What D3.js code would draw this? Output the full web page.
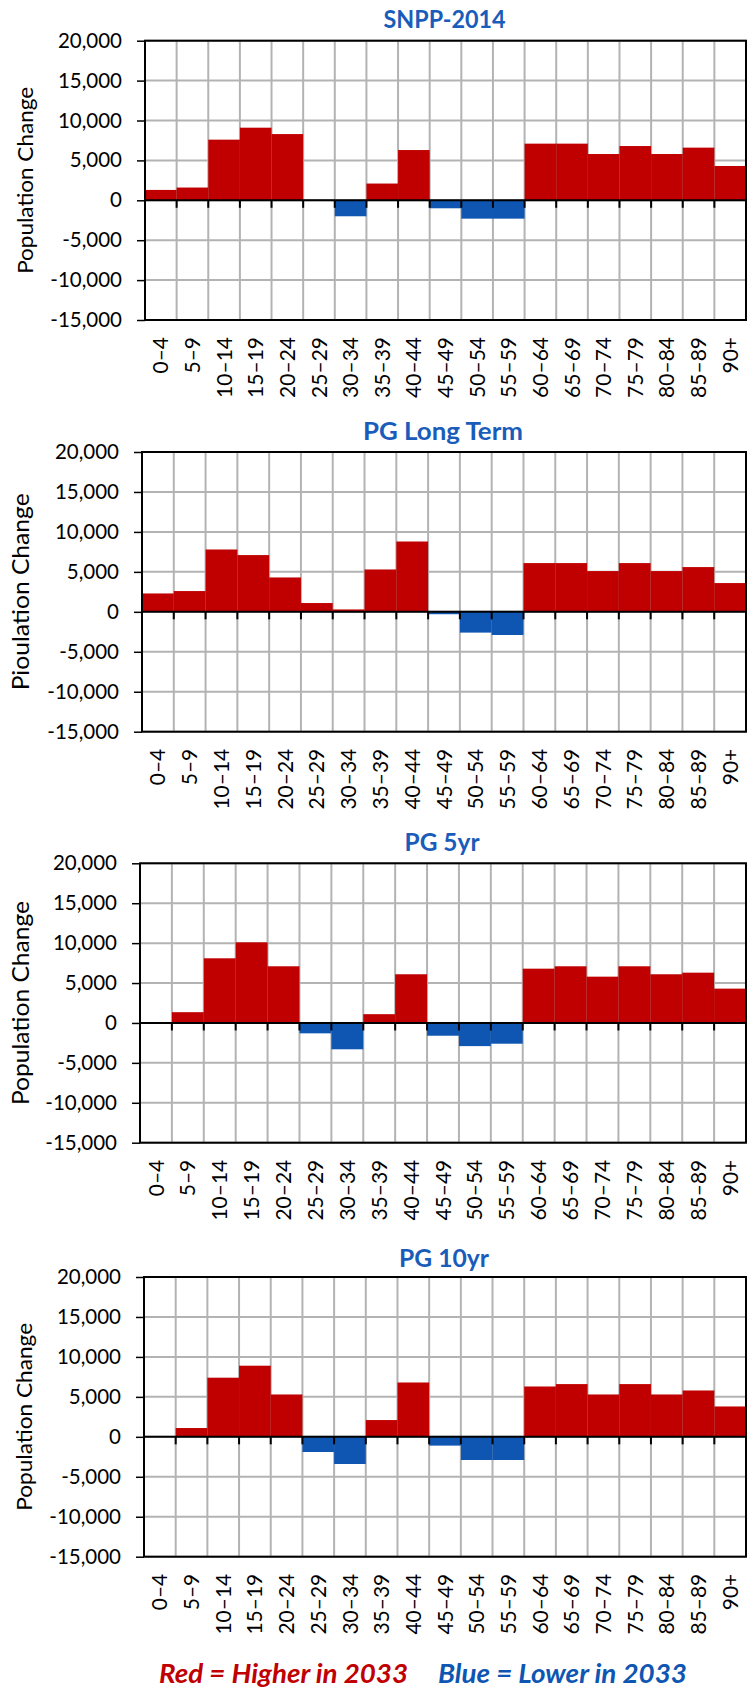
<!DOCTYPE html>
<html>
<head>
<meta charset="utf-8">
<script src="https://cdn.jsdelivr.net/npm/d3@7"></script>
<style>
  html, body { margin: 0; padding: 0; background: #fff; }
  svg { display: block; }
</style>
</head>
<body>
<svg id="chart" width="753" height="1692"></svg>
<script>
// ---------------- DATA ----------------
const ageGroups = ["0–4","5–9","10–14","15–19","20–24","25–29","30–34","35–39","40–44","45–49",
                   "50–54","55–59","60–64","65–69","70–74","75–79","80–84","85–89","90+"];
const snpp2014   = [1300, 1600, 7600, 9100, 8300,    50, -2000, 2100, 6300, -1000,
                    -2300, -2300, 7100, 7100, 5800, 6800, 5800, 6600, 4300];
const pgLongTerm = [2300, 2600, 7800, 7100, 4300, 1100,   300, 5300, 8800,  -300,
                    -2600, -2900, 6100, 6100, 5100, 6100, 5100, 5600, 3600];
const pg5yr      = [ -50, 1350, 8100, 10100, 7100, -1300, -3300, 1100, 6100, -1600,
                    -2900, -2600, 6800, 7100, 5800, 7100, 6100, 6300, 4300];
const pg10yr     = [   0, 1100, 7400, 8900, 5300, -1900, -3400, 2100, 6800, -1100,
                    -2900, -2900, 6300, 6600, 5300, 6600, 5300, 5800, 3800];
const yTicks     = [20000, 15000, 10000, 5000, 0, -5000, -10000, -15000];
const chartTitles = ["SNPP-2014", "PG Long Term", "PG 5yr", "PG 10yr"];
const yAxisTitles = ["Population Change", "Pioulation Change", "Population Change", "Population Change"];
const legendTexts = ["Red = Higher in 2033", "Blue = Lower in 2033"];

// ---------------- LAYOUT / STYLE ----------------
const RED = "#c00000", BLUE = "#0e56b2", TITLE_BLUE = "#1a5cba", GRID = "#b3b3b3";
const FONT = "Lato, 'Open Sans', 'DejaVu Sans', sans-serif";

const panels = [
  { values: snpp2014,   left: 145, right: 746, top: 40.7,  bottom: 320,    titleY: 28,     titleLen: 122, yLabX: 27, yLabLen: 187, yLabSize: 22 },
  { values: pgLongTerm, left: 142, right: 746, top: 452,   bottom: 731.7,  titleY: 439.5,  titleLen: 160, yLabX: 23, yLabLen: 197, yLabSize: 23 },
  { values: pg5yr,      left: 140, right: 746, top: 863.3, bottom: 1142.7, titleY: 851,    titleLen: 75,  yLabX: 22, yLabLen: 204, yLabSize: 24 },
  { values: pg10yr,     left: 144, right: 746, top: 1277,  bottom: 1556.7, titleY: 1267,   titleLen: 90,  yLabX: 26, yLabLen: 188, yLabSize: 22 }
];

const locale = d3.formatLocale({ decimal: ".", thousands: ",", grouping: [3], currency: ["", ""], minus: "-" });
const fmt = locale.format(",");

const svg = d3.select("#chart");
svg.append("rect").attr("width", 753).attr("height", 1692).attr("fill", "#fff");

panels.forEach((p, i) => {
  const g = svg.append("g");
  const x = d3.scaleBand().domain(ageGroups).range([p.left, p.right]).padding(0);
  const y = d3.scaleLinear().domain([-15000, 20000]).range([p.bottom, p.top]);

  // horizontal gridlines
  g.append("g").selectAll("line").data(yTicks).join("line")
    .attr("x1", p.left).attr("x2", p.right)
    .attr("y1", d => y(d)).attr("y2", d => y(d))
    .attr("stroke", GRID).attr("stroke-width", 2);

  // vertical gridlines at band boundaries
  g.append("g").selectAll("line").data(ageGroups.slice(1)).join("line")
    .attr("x1", d => x(d)).attr("x2", d => x(d))
    .attr("y1", p.top).attr("y2", p.bottom)
    .attr("stroke", GRID).attr("stroke-width", 2);

  // bars
  g.append("g").selectAll("rect").data(ageGroups).join("rect")
    .attr("x", d => x(d))
    .attr("width", x.bandwidth())
    .attr("y", (d, j) => y(Math.max(0, p.values[j])))
    .attr("height", (d, j) => Math.abs(y(p.values[j]) - y(0)))
    .attr("fill", (d, j) => p.values[j] >= 0 ? RED : BLUE);

  // y axis (ticks + labels)
  const ya = g.append("g").attr("transform", `translate(${p.left},0)`)
    .call(d3.axisLeft(y).tickValues(yTicks).tickSize(8).tickPadding(15).tickFormat(fmt));
  ya.select(".domain").remove();
  ya.selectAll(".tick line").attr("stroke", "#000").attr("stroke-width", 1.5);
  ya.selectAll(".tick text").attr("font-family", FONT).attr("font-size", 20.5).attr("fill", "#000");

  // x axis labels (rotated)
  const xa = g.append("g").attr("transform", `translate(0,${p.bottom})`)
    .call(d3.axisBottom(x).tickSize(0));
  xa.select(".domain").remove();
  xa.selectAll(".tick text")
    .attr("font-family", FONT).attr("font-size", 21).attr("fill", "#000")
    .attr("transform", "rotate(-90)")
    .attr("x", -17).attr("y", 0).attr("dy", "0.36em")
    .attr("text-anchor", "end");

  // plot border
  g.append("rect")
    .attr("x", p.left).attr("y", p.top)
    .attr("width", p.right - p.left).attr("height", p.bottom - p.top)
    .attr("fill", "none").attr("stroke", "#000").attr("stroke-width", 2);

  // zero line
  g.append("line")
    .attr("x1", p.left).attr("x2", p.right)
    .attr("y1", y(0)).attr("y2", y(0))
    .attr("stroke", "#000").attr("stroke-width", 2);

  // tick marks under zero line at category boundaries
  g.append("g").selectAll("line").data(ageGroups.slice(1)).join("line")
    .attr("x1", d => x(d)).attr("x2", d => x(d))
    .attr("y1", y(0)).attr("y2", y(0) + 7.5)
    .attr("stroke", "#000").attr("stroke-width", 2);

  // title
  g.append("text")
    .attr("x", (p.left + p.right) / 2 - 1).attr("y", p.titleY)
    .attr("text-anchor", "middle")
    .attr("font-family", FONT).attr("font-weight", "bold").attr("font-size", 25)
    .attr("fill", TITLE_BLUE)
    .attr("textLength", p.titleLen).attr("lengthAdjust", "spacingAndGlyphs")
    .text(chartTitles[i]);

  // y axis title
  const cy = (p.top + p.bottom) / 2;
  g.append("text")
    .attr("transform", `translate(${p.yLabX},${cy}) rotate(-90)`)
    .attr("text-anchor", "middle").attr("dy", "0.28em")
    .attr("font-family", FONT).attr("font-size", p.yLabSize).attr("fill", "#000")
    .attr("textLength", p.yLabLen).attr("lengthAdjust", "spacingAndGlyphs")
    .text(yAxisTitles[i]);
});

// legend
const legendX = [159, 438];
const legendColors = [RED, BLUE];
svg.append("g").selectAll("text").data(legendTexts).join("text")
  .attr("x", (d, i) => legendX[i]).attr("y", 1683)
  .attr("font-family", FONT).attr("font-weight", "bold").attr("font-style", "italic")
  .attr("font-size", 26)
  .attr("fill", (d, i) => legendColors[i])
  .attr("textLength", 249).attr("lengthAdjust", "spacingAndGlyphs")
  .text(d => d);
</script>
</body>
</html>
